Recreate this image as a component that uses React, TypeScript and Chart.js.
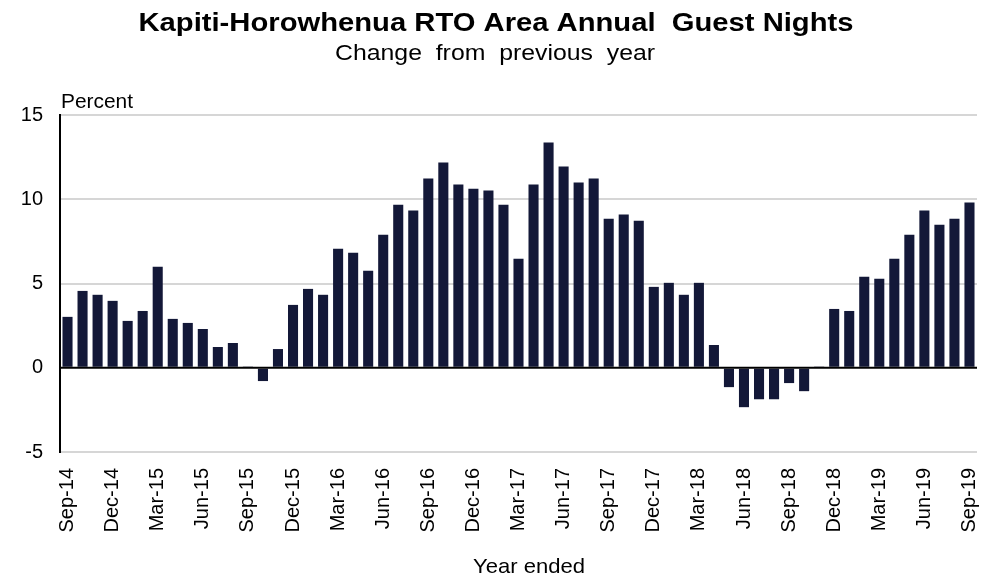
import { useEffect, useRef } from 'react';
import { Chart, registerables } from 'chart.js';

Chart.register(...registerables);

const months = [
  'Sep-14', 'Oct-14', 'Nov-14', 'Dec-14',
  'Jan-15', 'Feb-15', 'Mar-15', 'Apr-15', 'May-15', 'Jun-15', 'Jul-15', 'Aug-15', 'Sep-15', 'Oct-15', 'Nov-15', 'Dec-15',
  'Jan-16', 'Feb-16', 'Mar-16', 'Apr-16', 'May-16', 'Jun-16', 'Jul-16', 'Aug-16', 'Sep-16', 'Oct-16', 'Nov-16', 'Dec-16',
  'Jan-17', 'Feb-17', 'Mar-17', 'Apr-17', 'May-17', 'Jun-17', 'Jul-17', 'Aug-17', 'Sep-17', 'Oct-17', 'Nov-17', 'Dec-17',
  'Jan-18', 'Feb-18', 'Mar-18', 'Apr-18', 'May-18', 'Jun-18', 'Jul-18', 'Aug-18', 'Sep-18', 'Oct-18', 'Nov-18', 'Dec-18',
  'Jan-19', 'Feb-19', 'Mar-19', 'Apr-19', 'May-19', 'Jun-19', 'Jul-19', 'Aug-19', 'Sep-19',
];

const changePct = [
  3.02, 4.56, 4.33, 3.97,
  2.78, 3.37, 5.99, 2.9, 2.66, 2.3, 1.23, 1.47, 0.04, -0.79, 1.11, 3.73,
  4.68, 4.33, 7.06, 6.83, 5.75, 7.9, 9.68, 9.33, 11.23, 12.18, 10.87, 10.63,
  10.52, 9.68, 6.47, 10.87, 13.37, 11.94, 10.99, 11.23, 8.85, 9.09, 8.73, 4.8,
  5.04, 4.33, 5.04, 1.35, -1.15, -2.34, -1.87, -1.87, -0.91, -1.39, 0.04, 3.49,
  3.37, 5.4, 5.28, 6.47, 7.9, 9.33, 8.49, 8.85, 9.8,
];

const xTickLabels = [
  'Sep-14', 'Dec-14', 'Mar-15', 'Jun-15', 'Sep-15', 'Dec-15', 'Mar-16', 'Jun-16', 'Sep-16', 'Dec-16', 'Mar-17',
  'Jun-17', 'Sep-17', 'Dec-17', 'Mar-18', 'Jun-18', 'Sep-18', 'Dec-18', 'Mar-19', 'Jun-19', 'Sep-19',
];

const yMin = -5;
const yMax = 15;
const yStep = 5;

const TITLE = 'Kapiti-Horowhenua RTO Area Annual  Guest Nights';
const SUBTITLE = 'Change  from  previous  year';
const Y_LABEL = 'Percent';
const X_LABEL = 'Year ended';

const FONT = "'Liberation Sans', Arial, sans-serif";
const BAR = '#131838';

function drawStretched(
  ctx: CanvasRenderingContext2D,
  text: string,
  x: number,
  y: number,
  font: string,
  targetW: number,
  align: CanvasTextAlign
) {
  ctx.save();
  ctx.font = font;
  const w = ctx.measureText(text).width;
  const sx = targetW / w;
  ctx.translate(x, y);
  ctx.scale(sx, 1);
  ctx.textAlign = align;
  ctx.textBaseline = 'alphabetic';
  ctx.fillStyle = '#000';
  ctx.fillText(text, 0, 0);
  ctx.restore();
}

const textPlugin = {
  id: 'texts',
  afterDatasetsDraw(chart: any) {
    const { ctx, chartArea, scales } = chart;
    const y0 = scales.y.getPixelForValue(0);
    ctx.save();
    ctx.strokeStyle = '#000';
    ctx.lineWidth = 2;
    ctx.beginPath();
    ctx.moveTo(chartArea.left, y0);
    ctx.lineTo(chartArea.right, y0);
    ctx.stroke();
    ctx.restore();
  },
  afterDraw(chart: any) {
    const { ctx } = chart;
    drawStretched(ctx, TITLE, 496, 31, `bold 26px ${FONT}`, 715, 'center');
    drawStretched(ctx, SUBTITLE, 495, 60, `22px ${FONT}`, 320, 'center');
    drawStretched(ctx, Y_LABEL, 61, 108, `20px ${FONT}`, 72, 'left');
    drawStretched(ctx, X_LABEL, 473, 573, `21px ${FONT}`, 112, 'left');
  },
};

export default function App() {
  const ref = useRef<HTMLCanvasElement>(null);

  useEffect(() => {
    document.body.style.margin = '0';
    const chart = new Chart(ref.current as HTMLCanvasElement, {
      type: 'bar',
      data: {
        labels: months,
        datasets: [
          {
            data: changePct,
            backgroundColor: BAR,
            categoryPercentage: 1,
            barPercentage: 0.67,
          },
        ],
      },
      options: {
        responsive: false,
        animation: false,
        layout: { padding: { top: 115, right: 7, left: 0, bottom: 0 } },
        plugins: {
          legend: { display: false },
          tooltip: { enabled: false },
          title: { display: false },
        },
        scales: {
          x: {
            offset: true,
            grid: { display: false, drawTicks: false },
            border: { display: false },
            ticks: {
              autoSkip: false,
              maxRotation: 90,
              minRotation: 90,
              padding: 16,
              color: '#000',
              font: { family: FONT, size: 20 },
              callback: (_v: any, i: number) => (xTickLabels.includes(months[i]) ? months[i] : ''),
            },
            afterFit: (s: any) => {
              s.height = 129;
              s.paddingLeft = 0;
              s.paddingRight = 0;
            },
          },
          y: {
            min: yMin,
            max: yMax,
            ticks: {
              stepSize: yStep,
              padding: 17,
              color: '#000',
              font: { family: FONT, size: 20 },
            },
            grid: {
              drawTicks: false,
              lineWidth: 2,
              color: (c: any) => (c.tick && c.tick.value === 0 ? 'rgba(0,0,0,0)' : '#d6d6d6'),
            },
            border: { color: '#000', width: 2 },
            afterFit: (s: any) => {
              s.width = 60;
            },
          },
        },
      },
      plugins: [textPlugin],
    });
    return () => chart.destroy();
  }, []);

  return <canvas ref={ref} width={984} height={581} style={{ display: 'block' }} />;
}
